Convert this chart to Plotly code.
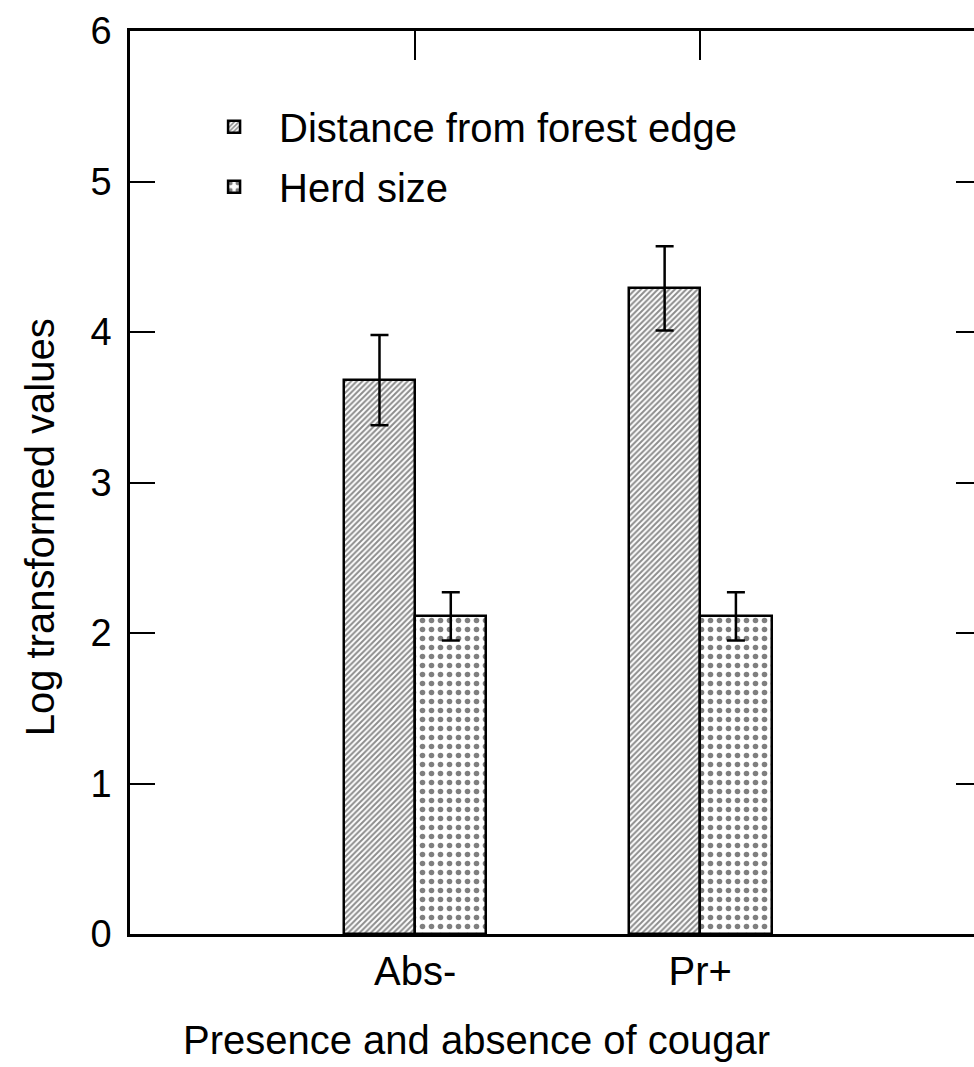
import plotly.graph_objects as go

# Group positions and labels
groups = ["Abs-", "Pr+"]
group_pos = [1, 2]

# Means and standard errors (log-transformed)
distance_mean = [3.68, 4.29]
distance_err = [0.30, 0.28]
herd_mean = [2.11, 2.11]
herd_err = [0.16, 0.16]

y_ticks = [0, 1, 2, 3, 4, 5, 6]

FONT = "Arial, Liberation Sans, sans-serif"
BAR_W = 0.25

fig = go.Figure()

fig.add_trace(go.Bar(
    name="Distance from forest edge", legendgroup="dist",
    x=group_pos, y=distance_mean,
    width=BAR_W, offset=-BAR_W,
    marker=dict(
        color="white",
        line=dict(color="black", width=2.5),
        pattern=dict(shape="/", size=4, solidity=0.5,
                     fgcolor="#1a1a1a", bgcolor="white", fillmode="overlay"),
    ),
    error_y=dict(type="data", array=distance_err, visible=True,
                 color="black", thickness=2.5, width=9),
))

fig.add_trace(go.Bar(
    name="Herd size", legendgroup="herd",
    x=group_pos, y=herd_mean,
    width=BAR_W, offset=0,
    marker=dict(
        color="white",
        line=dict(color="black", width=2.5),
        pattern=dict(shape=".", size=9, solidity=0.3,
                     fgcolor="black", bgcolor="white", fillmode="overlay"),
    ),
    error_y=dict(type="data", array=herd_err, visible=True,
                 color="black", thickness=2.5, width=9),
))

# Empty helper trace so the top/right frame axes are drawn
fig.add_trace(go.Scatter(x=[], y=[], xaxis="x2", yaxis="y2",
                         showlegend=False, hoverinfo="skip"))

x_range = [0.0, 2.96]

fig.update_layout(
    width=974, height=1067,
    margin=dict(l=130, r=0, t=31, b=133),
    paper_bgcolor="white", plot_bgcolor="white",
    font=dict(family=FONT, size=40, color="black"),
    bargap=0, showlegend=True,
    legend=dict(
        x=0.07, y=0.93, xanchor="left", yanchor="top",
        bgcolor="rgba(0,0,0,0)", font=dict(size=40),
        itemwidth=80, traceorder="grouped", tracegroupgap=5,
    ),
    xaxis=dict(
        range=x_range, tickvals=group_pos, ticktext=groups,
        showline=True, linecolor="black", linewidth=2.5,
        ticks="", showgrid=False, zeroline=False,
        tickfont=dict(size=40),
    ),
    yaxis=dict(
        range=[0, 6], tickvals=y_ticks,
        showline=True, linecolor="black", linewidth=2.5,
        ticks="inside", ticklen=25, tickwidth=2, tickcolor="black",
        showgrid=False, zeroline=False,
        tickfont=dict(size=38), ticklabelstandoff=8,
    ),
    xaxis2=dict(
        overlaying="x", side="top", anchor="y2", range=x_range,
        tickvals=group_pos, showticklabels=False,
        ticks="inside", ticklen=29, tickwidth=2, tickcolor="black",
        showline=True, linecolor="black", linewidth=2.5,
        showgrid=False, zeroline=False,
    ),
    yaxis2=dict(
        overlaying="y", side="right", anchor="x2", range=[0, 6],
        tickvals=y_ticks[1:-1], showticklabels=False,
        ticks="inside", ticklen=18, tickwidth=2, tickcolor="black",
        showline=False, showgrid=False, zeroline=False,
    ),
    annotations=[
        dict(text="Log transformed values", textangle=-90,
             xref="paper", yref="paper", x=-0.107, y=0.45,
             xanchor="center", yanchor="middle", showarrow=False,
             font=dict(size=40)),
        dict(text="Presence and absence of cougar",
             xref="paper", yref="paper", x=0.41, y=-0.117,
             xanchor="center", yanchor="middle", showarrow=False,
             font=dict(size=40)),
    ],
)

fig.write_html("out.html")
